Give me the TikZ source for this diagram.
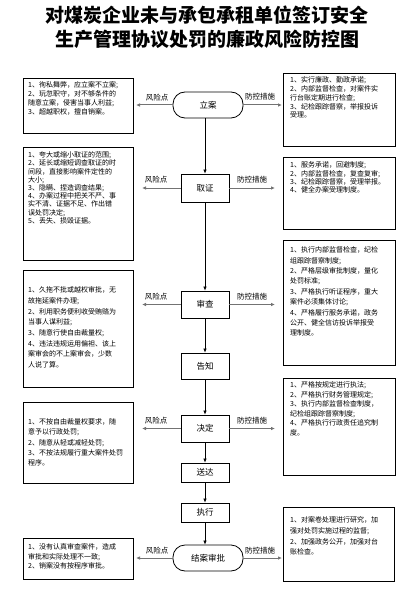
\documentclass[tikz,border=0pt]{standalone}
\usepackage{fontspec}
\setmainfont{Noto Sans CJK SC}
\newfontfamily\cjk{Noto Sans CJK SC}
\usetikzlibrary{arrows.meta}
\begin{document}
\begin{tikzpicture}[x=1pt,y=-1pt,
  every node/.style={font=\cjk},
  frame/.style={draw, line width=0.7pt, inner sep=0pt, anchor=north west},
  txt/.style={anchor=north west, inner sep=0pt, align=left, font=\cjk\fontsize{7}{#1}\selectfont},
  stad/.style={draw, line width=0.8pt, rounded corners=12pt, minimum width=70pt, minimum height=26pt, inner sep=0pt, font=\cjk\fontsize{8.5}{9}\selectfont},
  stepbox/.style={draw, line width=0.8pt, minimum width=48pt, minimum height=#1, inner sep=0pt, font=\cjk\fontsize{8.5}{9}\selectfont},
  lab/.style={inner sep=0pt, font=\cjk\fontsize{7.5}{8}\selectfont},
  side/.style={draw=black!55, line width=1pt, -{Latex[length=4pt,width=3.5pt]}},
  flow/.style={draw, line width=0.7pt, -{Latex[length=4pt,width=3.5pt]}}]
\useasboundingbox[fill=white] (0,0) rectangle (414,596);

% title
\node[font=\cjk\bfseries\fontsize{19}{24}\selectfont, align=center, inner sep=0pt] (title) at (207,27)
  {对煤炭企业未与承包承租单位签订安全\\生产管理协议处罚的廉政风险防控图};

% central flow
\node[stad] (lian) at (208,105) {立案};
\node[stepbox=28pt] (quzheng) at (205,188) {取证};
\node[stepbox=27pt] (shencha) at (205,304.5) {审查};
\node[stepbox=26pt] (gaozhi) at (205,366) {告知};
\node[stepbox=27pt] (jueding) at (205,428.5) {决定};
\node[stepbox=19pt] (songda) at (205,472.5) {送达};
\node[stepbox=19pt] (zhixing) at (205,512.5) {执行};
\node[stad] (jiean) at (208,558) {结案审批};

\draw[flow] (quzheng.north |- lian.south) -- (quzheng.north);
\draw[flow] (quzheng) -- (shencha);
\draw[flow] (shencha) -- (gaozhi);
\draw[flow] (gaozhi) -- (jueding);
\draw[flow] (jueding) -- (songda);
\draw[flow] (songda) -- (zhixing);
\draw[flow] (zhixing.south) -- (zhixing.south |- jiean.north);

% left boxes
\node[frame, minimum width=110pt, minimum height=55pt] (L1) at (23,78) {};
\node[frame, minimum width=110pt, minimum height=113pt] (L2) at (23,147) {};
\node[frame, minimum width=110pt, minimum height=117pt] (L3) at (23,270) {};
\node[frame, minimum width=110pt, minimum height=81pt] (L4) at (23,402) {};
\node[frame, minimum width=110pt, minimum height=41pt] (L5) at (23,538) {};

% right boxes
\node[frame, minimum width=112pt, minimum height=73pt] (R1) at (283,73) {};
\node[frame, minimum width=112pt, minimum height=72pt] (R2) at (283,157) {};
\node[frame, minimum width=112pt, minimum height=125pt] (R3) at (283,240) {};
\node[frame, minimum width=112pt, minimum height=97pt] (R4) at (283,378) {};
\node[frame, minimum width=111pt, minimum height=74pt] (R5) at (283,507) {};

% texts
\node[txt=9] (t1) at (28,81.5) {1、徇私舞弊，应立案不立案;\\2、玩忽职守，对不够条件的\\随意立案，侵害当事人利益;\\3、超越职权，擅自销案。};
\node[txt=8.2] (t2) at (28,151.5) {1、夸大或缩小取证的范围;\\2、延长或缩短调查取证的时\\间段，直接影响案件定性的\\大小;\\3、隐瞒、捏造调查结果;\\4、办案过程中把关不严、事\\实不清、证据不足、作出错\\误处罚决定;\\5、丢失、损毁证据。};
\node[txt=10.7] (t3) at (28,286.5) {1、久拖不批或越权审批，无\\故拖延案件办理;\\2、利用职务便利收受贿赂为\\当事人谋利益;\\3、随意行使自由裁量权;\\4、违法违规运用偏袒、该上\\案审会的不上案审会，少数\\人说了算。};
\node[txt=10.3] (t4) at (28,418.5) {1、不按自由裁量权要求，随\\意予以行政处罚;\\2、随意从轻或减轻处罚;\\3、不按法规履行重大案件处罚\\程序。};
\node[txt=9.5] (t5) at (28,543.5) {1、没有认真审查案件，造成\\审批和实际处理不一致;\\2、销案没有按程序审批。};

\node[txt=8.8] (s1) at (290,76.5) {1、实行廉政、勤政承诺;\\2、内部监督检查，对案件实\\行台账定期进行检查;\\3、纪检跟踪督察，举报投诉\\受理。};
\node[txt=8.4] (s2) at (290,161.5) {1、服务承诺，回避制度;\\2、内部监督检查，复查复审;\\3、纪检跟踪督察，受理举报。\\4、健全办案受理制度。};
\node[txt=10.4] (s3) at (290,246.5) {1、执行内部监督检查，纪检\\组跟踪督察制度;\\2、严格层级审批制度，量化\\处罚标准;\\3、严格执行听证程序，重大\\案件必须集体讨论;\\4、严格履行服务承诺，政务\\公开、健全信访投诉举报受\\理制度。};
\node[txt=9.5] (s4) at (290,381.5) {1、严格按规定进行执法;\\2、严格执行财务管理规定;\\3、执行内部监督检查制度，\\纪检组跟踪督察制度;\\4、严格执行行政责任追究制\\度。};
\node[txt=10.7] (s5) at (290,516.5) {1、对案卷处理进行研究，加\\强对处罚实施过程的监督;\\2、加强政务公开，加强对台\\账检查。};

% side arrows
\coordinate (e1l) at (136,105);
\coordinate (e2l) at (142,188);
\coordinate (e3l) at (142,304.5);
\coordinate (e4l) at (142,428.5);
\coordinate (e5l) at (136,558);
\coordinate (e1r) at (282,105);
\coordinate (e2r) at (275,188);
\coordinate (e3r) at (275,304.5);
\coordinate (e4r) at (275,428.5);
\coordinate (e5r) at (282,558);

\draw[side] (lian.west) -- (e1l);
\draw[side] (quzheng.west) -- (e2l);
\draw[side] (shencha.west) -- (e3l);
\draw[side] (jueding.west) -- (e4l);
\draw[side] (jiean.west) -- (e5l);
\draw[side] (lian.east) -- (e1r);
\draw[side] (quzheng.east) -- (e2r);
\draw[side] (shencha.east) -- (e3r);
\draw[side] (jueding.east) -- (e4r);
\draw[side] (jiean.east) -- (e5r);

% labels
\node[lab] (k1) at (157,98) {风险点};
\node[lab] (k2) at (156,180) {风险点};
\node[lab] (k3) at (156,297) {风险点};
\node[lab] (k4) at (156,421) {风险点};
\node[lab] (k5) at (157,551) {风险点};
\node[lab] (f1) at (260,97) {防控措施};
\node[lab] (f2) at (252,180) {防控措施};
\node[lab] (f3) at (252,297) {防控措施};
\node[lab] (f4) at (252,421) {防控措施};
\node[lab] (f5) at (260,551) {防控措施};
\end{tikzpicture}
\end{document}
